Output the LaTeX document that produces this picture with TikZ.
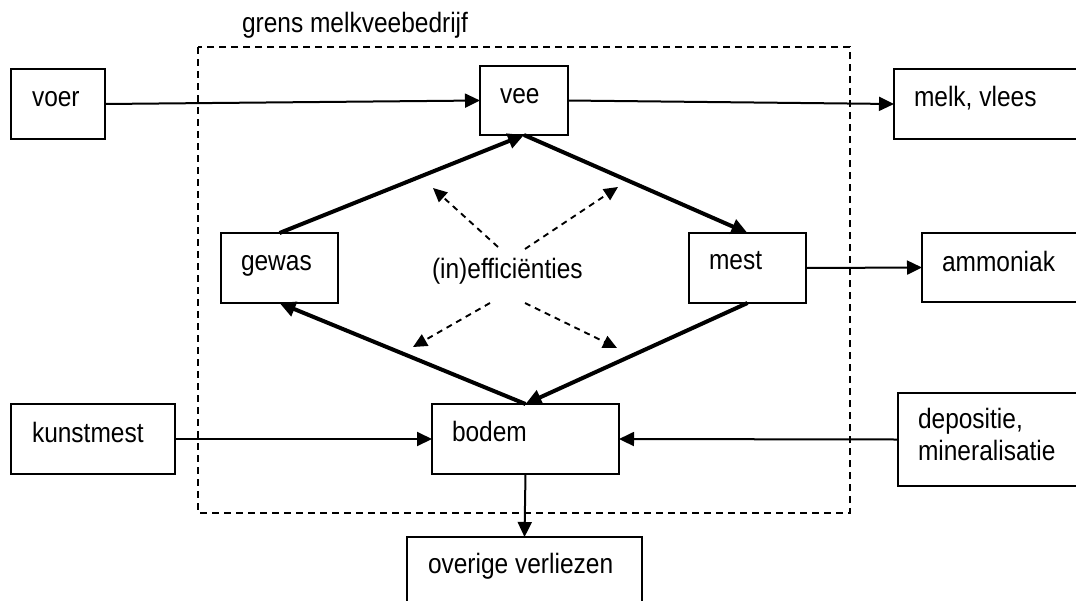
\documentclass[tikz,border=0pt]{standalone}
\usepackage{fontspec}
\setmainfont{Liberation Sans}[FakeStretch=0.875]
\usetikzlibrary{arrows.meta}
\begin{document}
\begin{tikzpicture}[x=1pt,y=-1pt,
  box/.style={draw=black, line width=2.3pt, inner sep=0pt, outer sep=0pt, anchor=north west},
  lbl/.style={inner sep=0pt, outer sep=0pt, anchor=base west, font=\fontsize{28}{32}\selectfont, align=left},
  thin/.style={line width=2pt, -{Triangle[length=15pt,width=14pt]}},
  thick/.style={line width=4pt, -{Triangle[length=16pt,width=15pt]}},
  dasharrow/.style={line width=1.9pt, dash pattern=on 6pt off 5pt, -{Triangle[length=14pt,width=13pt]}},
  boundary/.style={line width=2.2pt, dash pattern=on 7pt off 5pt}
]
\useasboundingbox (0,0) rectangle (1076,600);
\clip (0,0) rectangle (1076,600);
\fill[white] (0,0) rectangle (1076,600);

% boundary
\draw[boundary] (198,47) rectangle (850,513);
\node[lbl] (grens) at (242,32) {grens melkveebedrijf};

% boxes
\node[box, minimum width=94pt,  minimum height=70pt] (voer) at (11,69) {};
\node[box, minimum width=88pt,  minimum height=69pt] (vee) at (480,66) {};
\node[box, minimum width=196pt, minimum height=70pt] (melk) at (894,69) {};
\node[box, minimum width=117pt, minimum height=70pt] (gewas) at (221,233) {};
\node[box, minimum width=117pt, minimum height=70pt] (mest) at (689,233) {};
\node[box, minimum width=168pt, minimum height=69pt] (amm) at (922,233) {};
\node[box, minimum width=187pt, minimum height=70pt] (bodem) at (432,404) {};
\node[box, minimum width=164pt, minimum height=70pt] (kunst) at (11,404) {};
\node[box, minimum width=192pt, minimum height=93pt] (depo) at (898,393) {};
\node[box, minimum width=235pt, minimum height=90pt] (over) at (407,537) {};

% texts
\node[lbl] (voer-t)  at ([shift={(21,37)}]voer.north west) {voer};
\node[lbl] (vee-t)   at ([shift={(20,37)}]vee.north west) {vee};
\node[lbl] (melk-t)  at ([shift={(20,37)}]melk.north west) {melk, vlees};
\node[lbl] (gewas-t) at ([shift={(20,37)}]gewas.north west) {gewas};
\node[lbl] (mest-t)  at ([shift={(20,36)}]mest.north west) {mest};
\node[lbl] (amm-t)   at ([shift={(20,38)}]amm.north west) {ammoniak};
\node[lbl] (bodem-t) at ([shift={(20,37)}]bodem.north west) {bodem};
\node[lbl] (kunst-t) at ([shift={(21,38)}]kunst.north west) {kunstmest};
\node[lbl] (depo-t)  at ([shift={(20,67)}]depo.north west) {depositie,\\mineralisatie};
\node[lbl] (over-t)  at ([shift={(21,36)}]over.north west) {overige verliezen};
\node[lbl] (eff) at (432,278) {(in)efficiënties};

% thin flows
\draw[thin] (voer.east) -- (vee.west);
\draw[thin] (vee.east) -- (melk.west);
\draw[thin] (mest.east) -- (amm.west);
\draw[thin] (kunst.east) -- (bodem.west);
\draw[thin] (depo.west) -- (bodem.east);
\draw[thin] (bodem.south) -- (over.north);

% thick cycle
\draw[thick] (gewas.north) -- (vee.south);
\draw[thick] (vee.south) -- (mest.north);
\draw[thick] (mest.south) -- (bodem.north);
\draw[thick] (bodem.north) -- (gewas.south);

% (in)efficiencies
\coordinate (ulS) at (498,247); \coordinate (ulE) at (433,188);
\coordinate (urS) at (525,249); \coordinate (urE) at (618,187);
\coordinate (llS) at (490,303); \coordinate (llE) at (413,347);
\coordinate (lrS) at (525,303); \coordinate (lrE) at (617,348);
\draw[dasharrow] (ulS) -- (ulE);
\draw[dasharrow] (urS) -- (urE);
\draw[dasharrow] (llS) -- (llE);
\draw[dasharrow] (lrS) -- (lrE);
\end{tikzpicture}
\end{document}
